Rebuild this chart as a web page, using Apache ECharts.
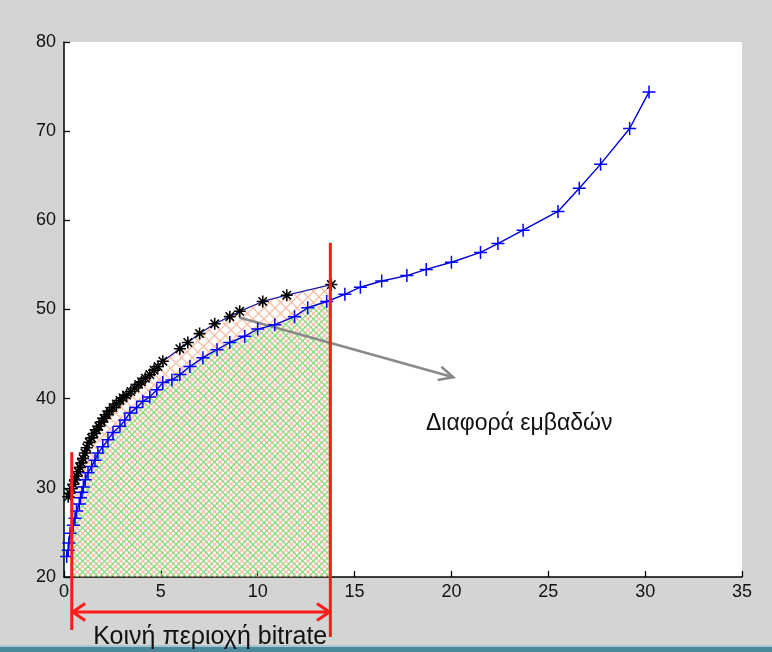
<!DOCTYPE html>
<html><head><meta charset="utf-8">
<script src="https://cdn.jsdelivr.net/npm/echarts@6/dist/echarts.min.js"></script>
<style>html,body{margin:0;padding:0;background:#d4d4d4}#c{width:772px;height:652px}</style>
</head><body><div id="c"></div><script>
const blueX=[0.14,0.22,0.25,0.31,0.48,0.57,0.65,0.79,0.85,0.93,1.0,1.1,1.24,1.43,1.6,1.75,2.0,2.27,2.53,2.89,3.14,3.4,3.75,4.07,4.43,4.79,5.1,5.57,5.98,6.5,7.17,7.9,8.56,9.33,10.0,10.88,11.9,12.58,13.56,14.5,15.3,16.4,17.7,18.7,20.0,21.5,22.4,23.7,25.5,26.6,27.7,29.2,30.2];
const blueY=[22.3,23.0,23.8,24.9,25.8,26.6,27.4,28.2,28.9,29.5,30.1,30.9,31.7,32.4,33.1,33.9,34.6,35.4,36.2,36.9,37.6,38.4,39.0,39.7,40.2,41.0,41.8,42.1,42.7,43.6,44.6,45.5,46.3,47.0,47.8,48.3,49.2,50.2,50.9,51.7,52.5,53.2,53.8,54.5,55.3,56.4,57.4,58.9,61.0,63.6,66.3,70.3,74.4];
const blackX=[0.22,0.3,0.4,0.48,0.57,0.65,0.74,0.82,0.9,0.98,1.08,1.17,1.3,1.42,1.55,1.68,1.8,1.94,2.07,2.2,2.35,2.53,2.7,2.89,3.05,3.23,3.45,3.66,3.85,4.0,4.2,4.43,4.65,4.85,5.1,5.98,6.39,7.0,7.78,8.56,9.07,10.26,11.5,13.8];
const blackY=[29.0,29.4,29.9,30.4,30.9,31.3,31.8,32.3,32.8,33.3,33.9,34.5,35.1,35.6,36.1,36.5,36.9,37.4,37.8,38.2,38.6,39.0,39.4,39.8,40.1,40.4,40.8,41.2,41.6,41.9,42.3,42.7,43.2,43.6,44.2,45.6,46.3,47.3,48.4,49.2,49.8,50.9,51.6,52.8];
const xTicks=[0,5,10,15,20,25,30,35];
const yTicks=[20,30,40,50,60,70,80];
const commonLo=0.4, commonHi=13.75;
const annotText1='Διαφορά εμβαδών';
const annotText2='Κοινή περιοχή bitrate';

function zip(xs,ys){return xs.map((x,i)=>[x,ys[i]]);}
function interp(xs,ys,x){
  for(let i=0;i<xs.length-1;i++){
    if(xs[i]<=x&&xs[i+1]>=x){const t=(x-xs[i])/(xs[i+1]-xs[i]);return ys[i]+t*(ys[i+1]-ys[i]);}
  }
  return x<xs[0]?ys[0]:ys[ys.length-1];
}
function clip(xs,ys,lo,hi){
  const out=[[lo,interp(xs,ys,lo)]];
  xs.forEach((x,i)=>{if(x>lo&&x<hi)out.push([x,ys[i]]);});
  out.push([hi,interp(xs,ys,hi)]);
  return out;
}
function hatch(color,offset){
  const s=11;const c=document.createElement('canvas');c.width=s;c.height=s;
  const g=c.getContext('2d');g.strokeStyle=color;g.lineWidth=1.4;
  for(let k=-2;k<=2;k++){const o=k*s+offset;
    g.beginPath();g.moveTo(o,0);g.lineTo(o+s,s);g.stroke();
    g.beginPath();g.moveTo(o+s,0);g.lineTo(o,s);g.stroke();}
  return c;
}
const plusPath='path://M0,5L10,5M5,0L5,10';
const starPath='path://M0,5L10,5M5,0L5,10M1.5,1.5L8.5,8.5M8.5,1.5L1.5,8.5';

const chart=echarts.init(document.getElementById('c'),null,{renderer:'canvas'});
const axisFont={color:'#111',fontSize:18,fontFamily:'Liberation Sans, Arial, sans-serif'};
chart.setOption({
  backgroundColor:'#d4d4d4',
  animation:false,
  grid:{left:64,right:30,top:42,bottom:75,show:true,backgroundColor:'#ffffff',borderWidth:0},
  xAxis:{type:'value',min:xTicks[0],max:xTicks[xTicks.length-1],interval:5,
    axisLine:{onZero:false,lineStyle:{color:'#000',width:1.5}},
    axisTick:{inside:true,length:6,lineStyle:{color:'#000',width:1.3}},
    splitLine:{show:false},axisLabel:Object.assign({margin:6},axisFont)},
  yAxis:{type:'value',min:yTicks[0],max:yTicks[yTicks.length-1],interval:10,
    axisLine:{show:true,onZero:false,lineStyle:{color:'#000',width:1.5}},
    axisTick:{show:true,inside:true,length:6,lineStyle:{color:'#000',width:1.3}},
    splitLine:{show:false},axisLabel:Object.assign({margin:8},axisFont)},
  series:[
    {type:'line',name:'diffArea',data:clip(blackX,blackY,commonLo,commonHi),symbol:'none',silent:true,
      lineStyle:{width:0},areaStyle:{color:{image:hatch('rgba(245,175,145,0.75)',0),repeat:'repeat'},opacity:1},z:1},
    {type:'line',name:'commonArea',data:clip(blueX,blueY,commonLo,commonHi),symbol:'none',silent:true,
      lineStyle:{width:0},areaStyle:{color:{image:hatch('rgba(120,215,110,0.85)',5.5),repeat:'repeat'},opacity:1},z:2},
    {type:'line',name:'black',data:zip(blackX,blackY),symbol:starPath,symbolSize:12,
      lineStyle:{color:'#1c1c9c',width:1.3},itemStyle:{color:'rgba(0,0,0,0)',borderColor:'#000',borderWidth:1.6},z:5},
    {type:'line',name:'blue',data:zip(blueX,blueY),symbol:plusPath,symbolSize:13,
      lineStyle:{color:'#0000d8',width:1.4},itemStyle:{color:'rgba(0,0,0,0)',borderColor:'#0000ff',borderWidth:1.5},z:6}
  ]
});

const P=(x,y)=>chart.convertToPixel({gridIndex:0},[x,y]);
function arrowHead(tip,from,len,ang,color,w){
  const dx=tip[0]-from[0],dy=tip[1]-from[1];const a=Math.atan2(dy,dx);
  const p1=[tip[0]-len*Math.cos(a-ang),tip[1]-len*Math.sin(a-ang)];
  const p2=[tip[0]-len*Math.cos(a+ang),tip[1]-len*Math.sin(a+ang)];
  return {type:'polyline',shape:{points:[p1,tip,p2]},style:{stroke:color,lineWidth:w,fill:null},z:100};
}
const bottomPx=P(0,20)[1];
const lx=P(commonLo,20)[0], rx=P(commonHi,20)[0];
const lTop=P(commonLo,34)[1], rTop=P(commonHi,57.5)[1];
const arrowY=bottomPx+35;
const g1=P(9.05,49.1), g2=P(20.1,42.4);
const t1=P(23.5,37.2);
const graphics=[
  {type:'line',shape:{x1:g1[0],y1:g1[1],x2:g2[0],y2:g2[1]},style:{stroke:'#8a8a8a',lineWidth:2.5},z:4},
  Object.assign(arrowHead(g2,g1,16,0.45,'#8a8a8a',2.5),{z:4}),
  {type:'line',shape:{x1:lx,y1:lTop,x2:lx,y2:bottomPx+53},style:{stroke:'#ff1a1a',lineWidth:3},z:100},
  {type:'line',shape:{x1:rx,y1:rTop,x2:rx,y2:bottomPx+60},style:{stroke:'#ff1a1a',lineWidth:3},z:100},
  {type:'line',shape:{x1:lx,y1:arrowY,x2:rx,y2:arrowY},style:{stroke:'#ff1a1a',lineWidth:3},z:100},
  arrowHead([lx+1,arrowY],[rx,arrowY],15,0.6,'#ff1a1a',3),
  arrowHead([rx-1,arrowY],[lx,arrowY],15,0.6,'#ff1a1a',3),
  {type:'text',x:t1[0],y:t1[1],style:{text:annotText1,fill:'#111',font:'23px "Liberation Sans", Arial, sans-serif',textAlign:'center',textVerticalAlign:'middle'},z:100},
  {type:'text',x:P(7.55,20)[0],y:bottomPx+60,style:{text:annotText2,fill:'#111',font:'25px "Liberation Sans", Arial, sans-serif',textAlign:'center',textVerticalAlign:'middle'},z:100},
  {type:'rect',shape:{x:0,y:645,width:772,height:2},style:{fill:'#a9c6cf'},z:90},
  {type:'rect',shape:{x:0,y:647,width:772,height:5},style:{fill:'#4a8a9c'},z:90}
];
chart.setOption({graphic:graphics});
</script></body></html>
